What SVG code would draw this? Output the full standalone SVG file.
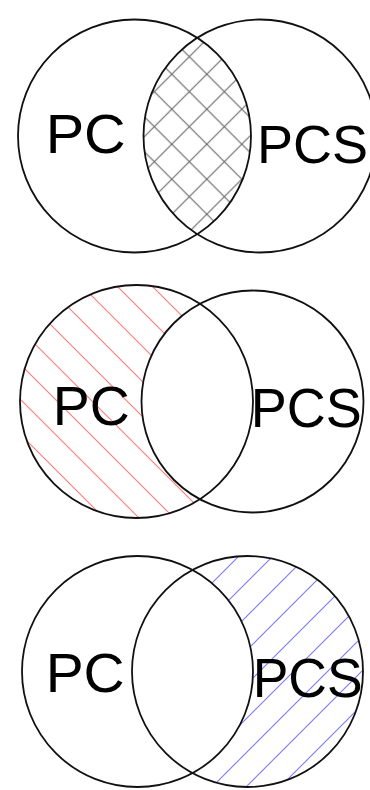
<svg xmlns="http://www.w3.org/2000/svg" width="370" height="790" viewBox="0 0 370 790">
<style>
.ring{fill:none;stroke:#111;stroke-width:1.8}
.lbl{font-family:"Liberation Sans",Arial,sans-serif;font-size:56px;fill:#000}
</style>
<defs>
<pattern id="cross" patternUnits="userSpaceOnUse" x="31.8" y="4.2" width="35" height="35">
<path d="M0,0L35,35M0,35L35,0M34,-1L36,1M-1,34L1,36M-1,1L1,-1M34,36L36,34" stroke="#666" stroke-width="1.1" fill="none"/>
</pattern>
<pattern id="red" patternUnits="userSpaceOnUse" x="6" y="0" width="35" height="35">
<path d="M0,0L35,35M34,-1L36,1M-1,34L1,36" stroke="#ff7a7a" stroke-width="1.1" fill="none"/>
</pattern>
<pattern id="blue" patternUnits="userSpaceOnUse" x="13" y="0" width="34" height="34">
<path d="M0,34L34,0M-1,1L1,-1M33,35L35,33" stroke="#7a7aff" stroke-width="1.1" fill="none"/>
</pattern>
<clipPath id="clipTopA"><circle cx="134.5" cy="136" r="116.5"/></clipPath>
</defs>

<g id="diagram-intersection">
<circle cx="260" cy="136" r="116.5" fill="url(#cross)" clip-path="url(#clipTopA)"/>
<g id="top-pc"><circle class="ring" cx="134.5" cy="136" r="116.5"/><text class="lbl" x="45.7" y="153" textLength="80" lengthAdjust="spacingAndGlyphs">PC</text></g>
<g id="top-pcs"><circle class="ring" cx="260" cy="136" r="116.5"/><text class="lbl" x="257" y="163" style="font-size:54px">PCS</text></g>
</g>

<g id="diagram-pc-only">
<path d="M199.9,303.76A116.5,116.5 0 1 0 199.9,499.24A111,111 0 0 1 199.9,303.76Z" fill="url(#red)"/>
<g id="mid-pc"><circle class="ring" cx="136.5" cy="401.5" r="116.5"/><text class="lbl" x="52.7" y="425" textLength="77" lengthAdjust="spacingAndGlyphs">PC</text></g>
<g id="mid-pcs"><circle class="ring" cx="252.5" cy="401.5" r="111"/><text class="lbl" x="250.7" y="427" textLength="111" lengthAdjust="spacingAndGlyphs">PCS</text></g>
</g>

<g id="diagram-pcs-only">
<path d="M192.5,569.9A115.5,115.5 0 1 1 192.5,773.1A115.5,115.5 0 0 0 192.5,569.9Z" fill="url(#blue)"/>
<g id="bot-pc"><circle class="ring" cx="137.5" cy="671.5" r="115.5"/><text class="lbl" x="45.7" y="692" textLength="79" lengthAdjust="spacingAndGlyphs">PC</text></g>
<g id="bot-pcs"><circle class="ring" cx="247.5" cy="671.5" r="115.5"/><text class="lbl" x="252.7" y="697" textLength="110" lengthAdjust="spacingAndGlyphs">PCS</text></g>
</g>
</svg>
